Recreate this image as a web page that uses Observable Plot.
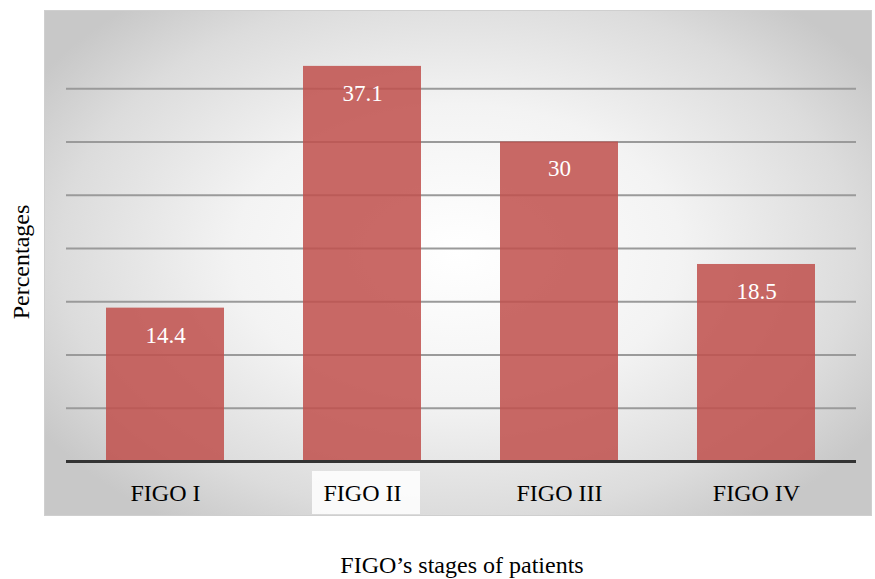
<!DOCTYPE html>
<html>
<head>
<meta charset="utf-8">
<script src="https://cdn.jsdelivr.net/npm/d3@7"></script>
<script src="https://cdn.jsdelivr.net/npm/@observablehq/plot@0.6"></script>
<style>
  html, body { margin: 0; padding: 0; background: #fff; }
  #wrap { position: relative; width: 875px; height: 579px; font-family: "Liberation Serif", "Times New Roman", serif; }
  #bg { position: absolute; left: 44px; top: 10px; width: 828px; height: 506px;
        background: radial-gradient(ellipse 60% 65% at 50% 48%, #ffffff 0%, #f3f3f3 45%, #dcdcdc 80%, #c8c8c8 100%);
        box-shadow: inset 0 0 0 1px #cfcfcf; }
  #patch { position: absolute; left: 312px; top: 471px; width: 108px; height: 43px; background: rgba(255,255,255,0.85); }
  #chart { position: absolute; left: 0; top: 0; }
  .ylab { position: absolute; left: 21px; top: 262px; transform: translate(-50%, -50%) rotate(-90deg);
          font-size: 24px; color: #000; white-space: nowrap; line-height: 1; }
  .xlab { position: absolute; left: 462px; top: 565px; transform: translate(-50%, -50%);
          font-size: 24px; color: #000; white-space: nowrap; line-height: 1; }
</style>
</head>
<body>
<div id="wrap">
  <div id="bg"></div>
  <div id="patch"></div>
  <div id="chart"></div>
  <div class="ylab">Percentages</div>
  <div class="xlab">FIGO’s stages of patients</div>
</div>
<script>
const categories = ["FIGO I", "FIGO II", "FIGO III", "FIGO IV"];
const values = [14.4, 37.1, 30, 18.5];
const gridTicks = [5, 10, 15, 20, 25, 30, 35];

const data = categories.map((c, i) => ({stage: c, value: values[i]}));

const chart = Plot.plot({
  width: 875,
  height: 579,
  marginLeft: 66,
  marginRight: 19,
  marginTop: 35,
  marginBottom: 118,
  style: {background: "transparent", fontFamily: "'Liberation Serif', 'Times New Roman', serif", fontSize: "24px", color: "#000"},
  x: {domain: categories, paddingInner: 0.4, paddingOuter: 0.2, label: null},
  y: {domain: [0, 40], label: null},
  marks: [
    Plot.ruleY(gridTicks, {stroke: "#9a9a9a", strokeWidth: 2}),
    Plot.barY(data, {x: "stage", y: "value", fill: "#c0504d", fillOpacity: 0.86}),
    Plot.ruleY([0], {stroke: "#333", strokeWidth: 3}),
    Plot.text(data, {x: "stage", y: "value", text: d => String(d.value), fill: "white", fontSize: 23, dy: 27, lineAnchor: "middle"}),
    Plot.axisX({tickSize: 0, tickPadding: 22, fontSize: 24, label: null}),
    Plot.axisY({ticks: [], label: null})
  ]
});
document.getElementById("chart").appendChild(chart);
</script>
</body>
</html>
